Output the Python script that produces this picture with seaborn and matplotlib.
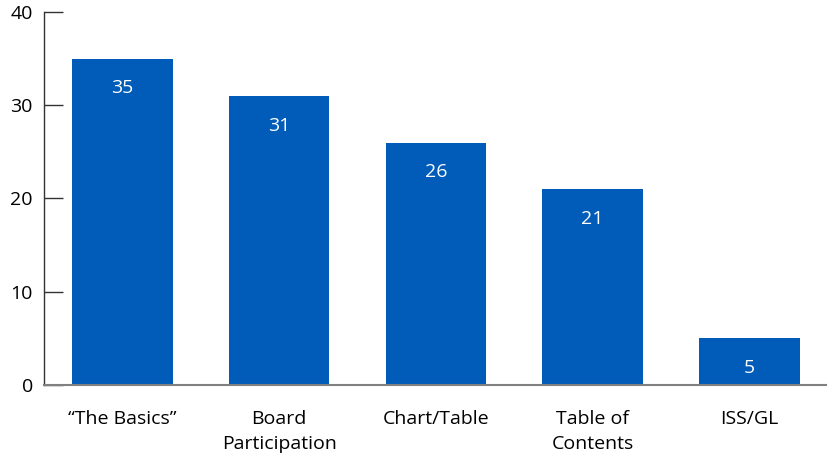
import matplotlib
matplotlib.use('Agg')
import matplotlib.pyplot as plt
import seaborn as sns
import pandas as pd

# Chart data
categories = ['\u201cThe Basics\u201d', 'Board\nParticipation', 'Chart/Table', 'Table of\nContents', 'ISS/GL']
counts = [35, 31, 26, 21, 5]
y_ticks = [0, 10, 20, 30, 40]

bar_color = '#015CB9'

sns.set_style('white')
plt.rcParams['font.family'] = ['Open Sans', 'DejaVu Sans']

df = pd.DataFrame({'category': categories, 'count': counts})

fig = plt.figure(figsize=(8.33, 4.61), dpi=100)
ax = fig.add_axes([0.0528, 0.165, 0.939, 0.809])

sns.barplot(data=df, x='category', y='count', color=bar_color, width=0.64,
            saturation=1, linewidth=0, ax=ax)

# White value labels inside the top of each bar
for container in ax.containers:
    ax.bar_label(container, labels=[str(v) for v in counts], padding=-28,
                 color='white', fontsize=14)

ax.set_ylim(0, 40)
ax.set_xlim(-0.5, 4.49)
ax.set_yticks(y_ticks)
ax.set_xlabel('')
ax.set_ylabel('')

ax.tick_params(axis='y', left=True, direction='in', length=14, width=1,
               color='#333333', labelsize=14, labelcolor='black', pad=8)
ax.tick_params(axis='x', bottom=False, length=0, labelsize=14,
               labelcolor='black', pad=18)
for lbl in ax.get_xticklabels():
    lbl.set_linespacing(1.5)

for side in ['top', 'right']:
    ax.spines[side].set_visible(False)
ax.spines['left'].set_color('#333333')
ax.spines['left'].set_linewidth(1)
ax.spines['bottom'].set_color('#808080')
ax.spines['bottom'].set_linewidth(1.5)

fig.savefig('out.png', dpi=100)
